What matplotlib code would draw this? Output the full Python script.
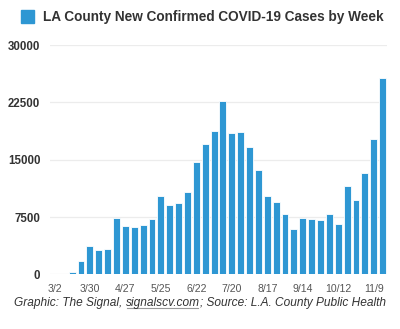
import matplotlib
matplotlib.use("Agg")
import matplotlib.pyplot as plt
from matplotlib.lines import Line2D

weeks = ["3/2", "3/9", "3/16", "3/23", "3/30", "4/6", "4/13", "4/20", "4/27",
         "5/4", "5/11", "5/18", "5/25", "6/1", "6/8", "6/15", "6/22", "6/29",
         "7/6", "7/13", "7/20", "7/27", "8/3", "8/10", "8/17", "8/24", "8/31",
         "9/7", "9/14", "9/21", "9/28", "10/5", "10/12", "10/19", "10/26",
         "11/2", "11/9", "11/16"]
cases = [0, 0, 260, 1740, 3740, 3220, 3310, 7330, 6280, 6190, 6410, 7200,
         10210, 9110, 9370, 10770, 14660, 17090, 18760, 22680, 18450, 18580,
         16700, 13650, 10250, 9500, 7890, 5930, 7410, 7280, 7150, 7890, 6620,
         11560, 9720, 13260, 17750, 25650]
y_ticks = [0, 7500, 15000, 22500, 30000]
series_name = "LA County New Confirmed COVID-19 Cases by Week"

plt.rcParams['font.family'] = ['Liberation Sans', 'DejaVu Sans']
bar_color = '#2E97D3'

fig = plt.figure(figsize=(4.0, 3.29), dpi=100)
ax = fig.add_axes([0.125, 0.166, 0.8425, 0.697])

x = list(range(len(weeks)))
ax.bar(x, cases, width=0.78, color=bar_color, edgecolor='white', linewidth=0.6, zorder=3)

ax.set_xlim(-0.5, len(weeks) - 0.5)
ax.set_ylim(0, 30000)
ax.set_yticks(y_ticks)
ax.set_yticklabels([str(v) for v in y_ticks], fontsize=8.3, color='#333333', fontweight='bold')
ax.set_xticks(x[::4])
ax.set_xticklabels(weeks[::4], fontsize=7.6, color='#555555')
ax.tick_params(axis='y', length=0, pad=7)
ax.tick_params(axis='x', length=0, pad=7)
for s in ax.spines.values():
    s.set_visible(False)
ax.grid(axis='y', color='#ececec', linewidth=0.9, zorder=0)
ax.set_axisbelow(True)

# legend-like title
fig.patches.append(plt.Rectangle((21 / 400, 1 - 23 / 329), 13 / 400, 13 / 329,
                                 transform=fig.transFigure, color=bar_color))
fig.text(43 / 400, 1 - 17 / 329, series_name, fontsize=9.85, fontweight='bold',
         color='#333333', va='center', ha='left')

# footer with underlined link
fy = 1 - 303 / 329
t1 = fig.text(14 / 400, fy, "Graphic: The Signal, ", fontsize=8.55,
              style='italic', color='#333333', va='center', ha='left')
t2 = fig.text(0, fy, "signalscv.com", fontsize=8.55, style='italic', color='#333333',
              va='center')
t3 = fig.text(0, fy, "; Source: L.A. County Public Health", fontsize=8.55,
              style='italic', color='#333333', va='center')
fig.canvas.draw()
r = fig.canvas.get_renderer()
inv = fig.transFigure.inverted()
b1 = t1.get_window_extent(r)
x2 = inv.transform((b1.x1, 0))[0]
t2.set_x(x2)
b2 = t2.get_window_extent(r)
x3 = inv.transform((b2.x1, 0))[0]
t3.set_x(x3)
ybot = inv.transform((0, b2.y0 + 1.5))[1]
fig.add_artist(Line2D([x2 + 0.003, x3 - 0.005], [ybot, ybot], transform=fig.transFigure,
                      color='#999999', linewidth=0.8))

fig.savefig("out.png", dpi=100)
